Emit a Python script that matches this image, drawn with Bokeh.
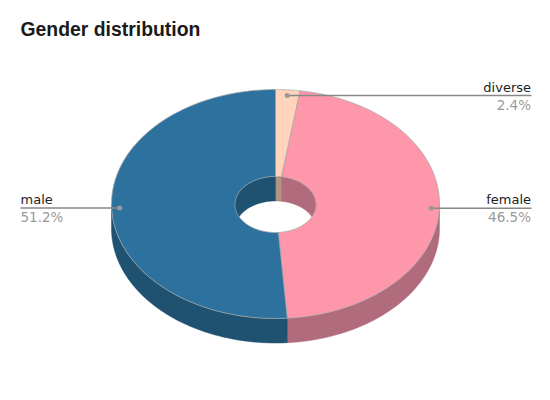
import numpy as np
from bokeh.plotting import figure
from bokeh.models import ColumnDataSource, Range1d
from bokeh.core.properties import value
from bokeh.embed import file_html
from bokeh.resources import INLINE

title = "Gender distribution"
categories = ["diverse", "female", "male"]
shares = [2.4, 46.5, 51.2]
pct_labels = ["2.4%", "46.5%", "51.2%"]
top_colors = ["#ffd4ba", "#ff97ab", "#2d729f"]
wall_colors = ["#b09585", "#b06b7c", "#1f5170"]

CX, CY, RX, RY, IRX, IRY, DEPTH = 275.0, 203.5, 164.0, 114.5, 40.5, 28.0, 24.5
ICY = 204.0
LEFT_END, RIGHT_END = 20, 531
TEXT_RIGHT = 530.5

total = sum(shares)
edges = np.radians(np.cumsum([0] + shares) / total * 360)


def arc(a0, a1, rx, ry, cy, n=120):
    t = np.linspace(a0, a1, n)
    return CX + rx * np.sin(t), cy - ry * np.cos(t)


def clipped(a0, a1, lo, hi):
    a, b = max(a0, lo), min(a1, hi)
    return (a, b) if b > a else None


p = figure(width=540, height=390, x_range=Range1d(0, 540), y_range=Range1d(390, 0),
           x_axis_type=None, y_axis_type=None, toolbar_location=None,
           output_backend="svg", min_border=0, outline_line_color=None,
           background_fill_color="white", border_fill_color="white")
p.grid.visible = False

# side walls: inner (far side of the hole) and outer (near side of the ring)
wx, wy, wc = [], [], []
for i in range(len(shares)):
    a0, a1 = edges[i], edges[i + 1]
    for lo, hi, rx, ry, cy in [(-np.pi / 2, np.pi / 2, IRX, IRY, ICY),
                               (3 * np.pi / 2, 5 * np.pi / 2, IRX, IRY, ICY),
                               (np.pi / 2, 3 * np.pi / 2, RX, RY, CY)]:
        c = clipped(a0, a1, lo, hi)
        if c:
            x1, y1 = arc(c[0], c[1], rx, ry, cy)
            x2, y2 = arc(c[1], c[0], rx, ry, cy + DEPTH)
            wx.append(np.r_[x1, x2])
            wy.append(np.r_[y1, y2])
            wc.append(wall_colors[i])
p.patches("x", "y", source=ColumnDataSource(dict(x=wx, y=wy, c=wc)),
          fill_color="c", line_color="c", line_width=0.5)

# top faces
tx, ty = [], []
for i in range(len(shares)):
    x1, y1 = arc(edges[i], edges[i + 1], RX, RY, CY)
    x2, y2 = arc(edges[i + 1], edges[i], IRX, IRY, ICY)
    tx.append(np.r_[x1, x2])
    ty.append(np.r_[y1, y2])
p.patches("x", "y", source=ColumnDataSource(dict(x=tx, y=ty, c=top_colors)),
          fill_color="c", line_color="#a8a8a8", line_width=1, line_alpha=0.75)

# leaders and labels
mid = (edges[:-1] + edges[1:]) / 2
dx = CX + 0.95 * RX * np.sin(mid)
dy = CY - 0.95 * RY * np.cos(mid)
right = np.sin(mid) > 0
ends = [RIGHT_END if r else LEFT_END for r in right]
text_x = [TEXT_RIGHT if r else LEFT_END for r in right]
aligns = ["right" if r else "left" for r in right]
src = ColumnDataSource(dict(x0=dx, y0=dy, x1=ends, tx=text_x, name=categories, pct=pct_labels, al=aligns))
p.segment("x0", "y0", "x1", "y0", source=src, line_color="#888888", line_width=1.5)
p.scatter("x0", "y0", source=src, size=5, marker="circle", fill_color="#999999", line_color=None)
p.text("tx", "y0", text="name", source=src, text_align="al", text_baseline="bottom",
       text_font=value("DejaVu Sans"), text_font_size="13px", text_color="#222222", y_offset=-1)
p.text("tx", "y0", text="pct", source=src, text_align="al", text_baseline="top",
       text_font=value("DejaVu Sans"), text_font_size="13.5px", text_color="#9a9a9a", y_offset=1)

p.text([20], [28], text=[title], text_align="left", text_baseline="middle",
       text_font=value("Liberation Sans"), text_font_size="19.4px", text_font_style="bold",
       text_color="#1a1a1a")

open("out.html", "w").write(file_html(p, INLINE))
